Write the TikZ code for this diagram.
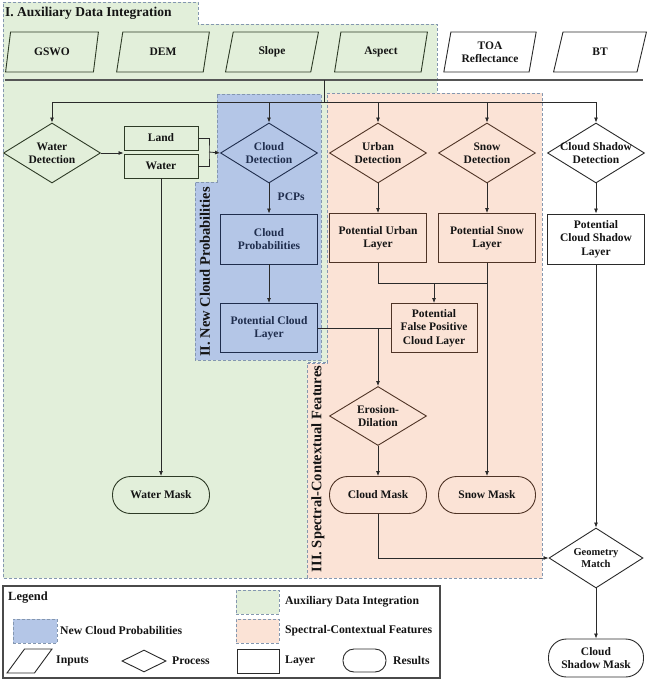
\documentclass[tikz,border=0pt]{standalone}
\usepackage{fontspec}
\setmainfont{Liberation Serif}
\usetikzlibrary{shapes.geometric,arrows.meta,calc}
\definecolor{gfill}{HTML}{E2EFDA}
\definecolor{bfill}{HTML}{B4C6E7}
\definecolor{ofill}{HTML}{FBE3D6}
\definecolor{dashc}{HTML}{8497B0}
\definecolor{gline}{HTML}{2E3B26}
\definecolor{bline}{HTML}{1F2D4D}
\definecolor{oline}{HTML}{4F3426}
\definecolor{kline}{HTML}{2A2A2A}
\definecolor{ktext}{HTML}{141414}
\tikzset{
  txt/.style={font=\fontsize{11.5}{13.3}\selectfont\bfseries, align=center, text=ktext},
  base/.style={txt, inner sep=0pt, line width=0.9pt},
  inbox/.style={base, inner sep=1pt, draw, trapezium, trapezium left angle=77, trapezium right angle=103,
    trapezium stretches=true, minimum width=93pt, minimum height=40pt},
  proc/.style={base, draw, diamond, minimum width=97pt, minimum height=60pt},
  layerbox/.style={base, draw, rectangle, minimum width=97pt, minimum height=49pt},
  result/.style={base, draw, rectangle, rounded corners=18pt, minimum width=97pt, minimum height=37pt},
  lbl/.style={txt},
  region/.style={draw=dashc, dash pattern=on 3pt off 2pt, line width=0.8pt},
  arr/.style={draw=kline, line width=0.8pt, -{Latex[length=5pt,width=4pt]}},
  conn/.style={draw=kline, line width=0.8pt},
  rtitle/.style={font=\fontsize{14.5}{16}\selectfont\bfseries, text=ktext, inner sep=0pt},
  legtxt/.style={font=\fontsize{11.7}{13}\selectfont\bfseries, text=ktext, anchor=west, inner sep=0pt},
}
\begin{document}
\begin{tikzpicture}[x=1pt,y=-1pt]
\useasboundingbox (0,0) rectangle (649,680);
% regions
\path[region, fill=gfill] (3,2) -- (198,2) -- (198,24) -- (437,24) -- (437,93) -- (327,93)
  -- (327,362) -- (307,362) -- (307,578) -- (3,578) -- cycle;
\path[region, fill=bfill] (217,94) -- (321,94) -- (321,360) -- (195,360) -- (195,182) -- (217,182) -- cycle;
\path[region, fill=ofill] (327,93) -- (542,93) -- (542,578) -- (307,578) -- (307,363) -- (327,363) -- cycle;
\node[font=\fontsize{13.5}{15}\selectfont\bfseries, text=ktext, anchor=west, inner sep=0pt] (t1) at (5,13) {I. Auxiliary Data Integration};
\node[rtitle, rotate=90] (t2) at (205,272) {II. New Cloud Probabilities};
\node[rtitle, rotate=90] (t3) at (318,469) {III. Spectral-Contextual Features};

% inputs
\node[inbox, draw=gline] (gswo) at (52,52) {GSWO};
\node[inbox, draw=gline] (dem) at (163,52) {DEM};
\node[inbox, draw=gline] (slope) at (272,52) {Slope};
\node[inbox, draw=gline] (aspect) at (381,52) {Aspect};
\node[inbox, draw=kline] (toa) at (490,52) {TOA\\Reflectance};
\node[inbox, draw=kline] (bt) at (600,52) {BT};
\coordinate (sepL) at (5,80);
\coordinate (sepR) at (643,80);
\draw[line width=1.1pt, draw=kline!80] (sepL) -- (sepR);

% process row
\node[proc, draw=gline, label={[lbl]center:{Water\\Detection}}] (wd) at (52,153) {};
\node[layerbox, draw=gline, minimum width=74pt, minimum height=24pt] (land) at (161,138) {Land};
\node[layerbox, draw=gline, minimum width=74pt, minimum height=24pt] (water) at (161,166) {Water};
\node[proc, draw=bline, label={[lbl, text=bline]center:{Cloud\\Detection}}] (cd) at (269,153) {};
\node[proc, draw=oline, label={[lbl]center:{Urban\\Detection}}] (ud) at (378,153) {};
\node[proc, draw=oline, label={[lbl]center:{Snow\\Detection}}] (sd) at (487,153) {};
\node[proc, draw=kline, label={[lbl]center:{Cloud Shadow\\Detection}}] (csd) at (596,153) {};

% layers
\node[layerbox, draw=bline, text=bline, minimum height=50pt] (cp) at (269,239) {Cloud\\Probabilities};
\node[layerbox, draw=bline, text=bline] (pcl) at (269,328) {Potential Cloud\\Layer};
\node[layerbox, draw=oline] (pul) at (378,238) {Potential Urban\\Layer};
\node[layerbox, draw=oline] (psl) at (487,238) {Potential Snow\\Layer};
\node[layerbox, draw=kline, minimum height=50pt] (pcsl) at (596,239) {Potential\\Cloud Shadow\\Layer};
\node[layerbox, draw=oline, minimum width=86pt] (fp) at (434,328) {Potential\\False Positive\\Cloud Layer};
\node[proc, draw=oline, minimum height=59pt, label={[lbl]center:{Erosion-\\Dilation}}] (ed) at (378,416) {};

% results
\node[result, draw=gline] (wm) at (161,495) {Water Mask};
\node[result, draw=oline] (cm) at (378,495) {Cloud Mask};
\node[result, draw=oline] (sm) at (487,495) {Snow Mask};
\node[proc, draw=kline, minimum width=94pt, label={[lbl, font=\fontsize{10.5}{12.5}\selectfont\bfseries]center:{Geometry\\Match}}] (gm) at (596,558) {};
\node[result, draw=kline, minimum width=95pt, minimum height=38pt] (csm) at (596,658) {Cloud\\Shadow Mask};

% connectors
\coordinate (busT) at (324,80);
\coordinate (busB) at (324,102);
\coordinate (busL) at (52,102);
\coordinate (busR) at (596,102);
\draw[conn] (busT) -- (busB);
\draw[conn] (busL) -- (busR);
\draw[arr] (busL) -- (wd.north);
\draw[arr] (cd.north |- busB) -- (cd.north);
\draw[arr] (ud.north |- busB) -- (ud.north);
\draw[arr] (sd.north |- busB) -- (sd.north);
\draw[arr] (busR) -- (csd.north);
\draw[arr] (wd.east) -- (wd.east -| land.west);
\coordinate (lw) at (209,152);
\draw[conn] (land.east) -| (lw) |- (water.east);
\draw[arr] (lw) -- (cd.west);
\draw[arr] (cd.south) -- node[right=5pt, txt, text=bline, pos=0.45] (pcps) {PCPs} (cp.north);
\draw[arr] (cp.south) -- (pcl.north);
\draw[arr] (ud.south) -- (pul.north);
\draw[arr] (sd.south) -- (psl.north);
\draw[arr] (csd.south) -- (pcsl.north);
\coordinate (jn) at (434,283);
\draw[conn] (pul.south) |- (psl.south |- jn);
\draw[arr] (jn) -- (fp.north);
\draw[arr] (psl.south) -- (sm.north);
\draw[conn] (pcl.east) -- (fp.west);
\coordinate (ej) at (ed.north |- pcl.east);
\draw[arr] (ej) -- (ed.north);
\draw[arr] (ed.south) -- (cm.north);
\draw[arr] (water.south) -- (wm.north);
\draw[arr] (cm.south) |- (gm.west);
\draw[arr] (pcsl.south) -- (gm.north);
\draw[arr] (gm.south) -- (csm.north);

% legend
\node[draw=kline!85, line width=1.2pt, minimum width=437pt, minimum height=92pt, inner sep=0pt] (legend) at (221.5,632) {};
\node[legtxt, font=\fontsize{12.5}{14}\selectfont\bfseries] (legt) at (8,598) {Legend};
\node[region, fill=gfill, minimum width=43pt, minimum height=24pt, inner sep=0pt] (lg) at (257.5,602) {};
\node[legtxt] (lgt) at (285,602) {Auxiliary Data Integration};
\node[region, fill=bfill, minimum width=44pt, minimum height=24pt, inner sep=0pt] (lb) at (35,631) {};
\node[legtxt] (lbt) at (60,631) {New Cloud Probabilities};
\node[region, fill=ofill, minimum width=43pt, minimum height=24pt, inner sep=0pt] (lo) at (257.5,631) {};
\node[legtxt] (lot) at (285,631) {Spectral-Contextual Features};
\node[inbox, draw=kline, fill=white, minimum width=45pt, minimum height=24pt] (li) at (29.5,661) {\strut};
\node[legtxt] (lit) at (56,661) {Inputs};
\node[proc, draw=kline, fill=white, minimum width=44pt, minimum height=22pt] (lp) at (144,661) {};
\node[legtxt] (lpt) at (172,661) {Process};
\node[layerbox, draw=kline, fill=white, minimum width=42pt, minimum height=24pt] (ll) at (258,661) {};
\node[legtxt] (llt) at (285,661) {Layer};
\node[result, draw=kline, fill=white, minimum width=43pt, minimum height=23pt, rounded corners=11pt] (lr) at (364.5,660.5) {};
\node[legtxt] (lrt) at (393,661) {Results};
\end{tikzpicture}
\end{document}
